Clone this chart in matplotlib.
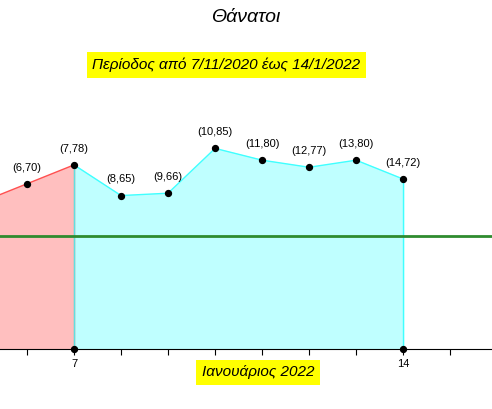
import matplotlib.pyplot as plt

days = [5, 6, 7, 8, 9, 10, 11, 12, 13, 14]
deaths = [62, 70, 78, 65, 66, 85, 80, 77, 80, 72]
mean_line = 48
tick_labels = {7: "7", 14: "14"}

fig = plt.figure(figsize=(4.92, 4.09), dpi=100)
ax = fig.add_axes([0, 0.147, 1, 0.594])
ax.set_xlim(5.426, 15.89)
ax.set_ylim(0, 103)

red_d = [d for d in days if d <= 7]
red_v = [v for d, v in zip(days, deaths) if d <= 7]
cy_d = [d for d in days if d >= 7]
cy_v = [v for d, v in zip(days, deaths) if d >= 7]
ax.fill_between(red_d, red_v, 0, color="#ffbfbf")
ax.plot(red_d, red_v, color="#ff5050", lw=1)
ax.plot([7, 7], [0, 78], color="#ff8080", lw=1)
ax.fill_between(cy_d, cy_v, 0, color="#bfffff")
ax.plot(cy_d, cy_v, color="#40ffff", lw=1)
ax.plot([7, 7], [0, 78], color="#60e0e0", lw=1)
ax.plot([14, 14], [0, 72], color="#40ffff", lw=1)
ax.scatter(days, deaths, color="black", s=18, zorder=5)
ax.scatter([7, 14], [0, 0], color="black", s=18, zorder=5, clip_on=False)
ax.axhline(mean_line, color="#2e8b2e", lw=2)

for d, v in zip(days, deaths):
    ax.annotate(f"({d},{v})", (d, v), xytext=(0, 8), textcoords="offset points",
                ha="center", va="bottom", fontsize=8, family="Liberation Sans")

for s in ["left", "right", "top"]:
    ax.spines[s].set_visible(False)
ax.set_yticks([])
ax.set_xticks(list(range(6, 16)))
ax.set_xticklabels([tick_labels.get(d, "") for d in range(6, 16)], fontsize=8,
                   family="Liberation Sans")
ax.tick_params(axis="x", length=4)

fig.text(0.5, 1 - 18 / 409, "Θάνατοι", ha="center", va="center", fontsize=14,
         style="italic", family="Liberation Sans")
fig.text(0.46, 1 - 65 / 409, "Περίοδος από 7/11/2020 έως 14/1/2022", ha="center",
         va="center", fontsize=11, style="italic", family="Liberation Sans",
         bbox=dict(facecolor="yellow", edgecolor="none", pad=4))
fig.text(258 / 492, 1 - 372 / 409, "Ιανουάριος 2022", ha="center", va="center",
         fontsize=11, style="italic", family="Liberation Sans",
         bbox=dict(facecolor="yellow", edgecolor="none", pad=4))
fig.savefig("out.png", dpi=100)
